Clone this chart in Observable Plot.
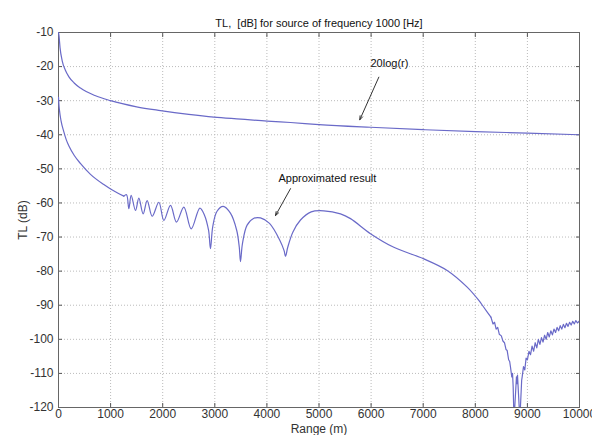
<!DOCTYPE html>
<html>
<head>
<meta charset="utf-8">
<script src="https://cdn.jsdelivr.net/npm/d3@7"></script>
<script src="https://cdn.jsdelivr.net/npm/@observablehq/plot@0.6"></script>
<style>
  html, body { margin: 0; padding: 0; background: #fff; }
  svg { font-family: "Liberation Sans", Arial, sans-serif; }
</style>
</head>
<body>
<div id="chart"></div>
<script>
const titleText = "TL,  [dB] for source of frequency 1000 [Hz]";
const xLabel = "Range (m)";
const yLabel = "TL (dB)";
const xTicks = [0, 1000, 2000, 3000, 4000, 5000, 6000, 7000, 8000, 9000, 10000];
const yTicks = [-10, -20, -30, -40, -50, -60, -70, -80, -90, -100, -110, -120];

// Upper curve "20log(r)"
const upperR = [0, 10, 30, 71, 130, 200, 300, 422, 700, 998, 1500, 1958, 2500, 2981, 3500, 4004, 4453, 5000, 5988, 7000, 8004, 9000, 10000];
const upperTL = [-10, -11, -14.5, -18.3, -21, -23, -24.8, -26.3, -28.5, -30, -31.8, -32.9, -34, -34.8, -35.4, -36, -36.4, -37, -37.8, -38.5, -39.1, -39.5, -40];

// Lower curve "Approximated result": initial decay
const headR = [0, 5, 20, 50, 100, 150, 200, 300, 420, 614, 870, 1000, 1126, 1254];
const headTL = [-29, -30.5, -33, -36, -39, -41.5, -43.3, -46, -48.4, -51.6, -54.6, -55.9, -57, -58];

// Lower curve: interference lobes
const lowerR = [1254,
  1306, 1350, 1395, 1478, 1542, 1625, 1702, 1798, 1926, 2022, 2150, 2265, 2406, 2547, 2713,
  2800, 2880, 2917, 2960, 3040, 3161, 3300, 3420, 3470, 3493, 3530, 3620, 3750, 3877,
  4050, 4250, 4330, 4357, 4400, 4500, 4645, 4850, 5093, 5413, 5605, 5988, 6436, 7012, 7460, 7844, 8068, 8163, 8300];
const lowerTL = [-58,
  -57.6, -61.7, -57.8, -62.2, -58.6, -63.2, -59.3, -63.9, -59.8, -65.1, -60.7, -65.6, -61.2, -67.6, -61.5,
  -63.5, -68, -73.4, -67, -62.5, -61.0, -63, -68, -73, -77.2, -72, -66.5, -64.5, -64.4,
  -66, -71, -74, -75.7, -73, -68.5, -65, -62.6, -62.3, -63.2, -64.6, -69.0, -73.0, -76.4, -79.8, -84.7, -88.6, -90.6, -93.5];

// Lower curve, jagged part near the null
const noisyR = [8300, 8340, 8370, 8400, 8430, 8460, 8500, 8530, 8560, 8590, 8612, 8640, 8660, 8676, 8700, 8715, 8727, 8740, 8750, 8790, 8800, 8810, 8850, 8860, 8890,
  8900, 8925, 8950, 8975, 9000, 9030, 9060, 9090, 9120, 9150, 9180, 9210, 9240, 9270, 9300, 9330, 9360, 9390, 9420, 9450, 9480, 9510, 9540, 9570, 9600, 9630, 9660, 9690, 9720, 9750, 9780, 9810, 9840, 9870, 9900, 9930, 9960, 10000];
const noisyTL = [-93.5, -95.5, -95, -97, -96.5, -98.5, -99, -100.5, -101, -103, -103.3, -106, -106.5, -108.2, -111, -110, -114, -122, -122, -111, -113, -110.5, -122, -122, -112,
  -111, -108, -109, -105.5, -106, -103.5, -104.5, -102, -103.5, -101, -102.5, -100, -101.5, -99.5, -100.8, -98.8, -100, -98, -99.3, -97.5, -98.7, -97, -98, -96.5, -97.5, -96, -97, -95.6, -96.6, -95.3, -96.2, -95, -95.8, -94.7, -95.5, -94.5, -95.2, -94.6];

// Annotations
const noteText = ["20log(r)", "Approximated result"];
const noteX = [5988, 4223];
const noteY = [-19.1, -52.8];
const arrowX1 = [6148, 4453];
const arrowY1 = [-23.1, -55.8];
const arrowX2 = [5783, 4165];
const arrowY2 = [-35.6, -63.7];

const upper = upperR.map((r, i) => ({r, tl: upperTL[i]}));
const head = headR.map((r, i) => ({r, tl: headTL[i]}));
const lower = lowerR.map((r, i) => ({r, tl: lowerTL[i]}));
const noisy = noisyR.map((r, i) => ({r, tl: noisyTL[i]}));
const notes = noteText.map((t, i) => ({t, x: noteX[i], y: noteY[i]}));
const arrows = arrowX1.map((x1, i) => ({x1, y1: arrowY1[i], x2: arrowX2[i], y2: arrowY2[i]}));

const lineColor = "#6a6ac8";
const textColor = "#333";
const fmt = d => String(d);

const chart = Plot.plot({
  width: 592,
  height: 435,
  marginLeft: 58,
  marginRight: 13,
  marginTop: 32,
  marginBottom: 28,
  style: {fontSize: "12px", color: textColor, background: "#fff"},
  x: {domain: [0, 10000]},
  y: {domain: [-120, -10]},
  marks: [
    Plot.gridX(xTicks, {stroke: "#bbb", strokeOpacity: 1, strokeDasharray: "1,2"}),
    Plot.gridY(yTicks, {stroke: "#bbb", strokeOpacity: 1, strokeDasharray: "1,2"}),
    Plot.axisX(xTicks, {anchor: "bottom", tickSize: 0, tickPadding: 2, tickFormat: fmt, fill: textColor, label: xLabel, labelAnchor: "center", labelArrow: "none", labelOffset: 25, fontSize: 12}),
    Plot.axisY(yTicks, {anchor: "left", tickSize: 0, tickPadding: 5, tickFormat: fmt, fill: textColor, label: yLabel, labelAnchor: "center", labelArrow: "none", labelOffset: 40, fontSize: 12}),
    Plot.axisX(xTicks, {anchor: "bottom", tickSize: -4, tickFormat: () => "", label: null, stroke: "#555"}),
    Plot.axisX(xTicks, {anchor: "top", tickSize: -4, tickFormat: () => "", label: null, stroke: "#555"}),
    Plot.axisY(yTicks, {anchor: "left", tickSize: -4, tickFormat: () => "", label: null, stroke: "#555"}),
    Plot.axisY(yTicks, {anchor: "right", tickSize: -4, tickFormat: () => "", label: null, stroke: "#555"}),
    Plot.frame({stroke: "#666"}),
    Plot.line(upper, {x: "r", y: "tl", stroke: lineColor, strokeWidth: 1.2, curve: "monotone-x", clip: true}),
    Plot.line(head, {x: "r", y: "tl", stroke: lineColor, strokeWidth: 1.2, curve: "monotone-x", clip: true}),
    Plot.line(lower, {x: "r", y: "tl", stroke: lineColor, strokeWidth: 1.2, curve: "catmull-rom", clip: true}),
    Plot.line(noisy, {x: "r", y: "tl", stroke: lineColor, strokeWidth: 1.2, clip: true}),
    Plot.arrow(arrows, {x1: "x1", y1: "y1", x2: "x2", y2: "y2", stroke: "#333", strokeWidth: 1, headLength: 6, headAngle: 40}),
    Plot.text(notes, {x: "x", y: "y", text: "t", textAnchor: "start", fill: "#111", fontSize: 11}),
    Plot.text([titleText], {frameAnchor: "top", dy: -13, fill: "#111", fontSize: 11})
  ]
});
document.getElementById("chart").appendChild(chart);
</script>
</body>
</html>
